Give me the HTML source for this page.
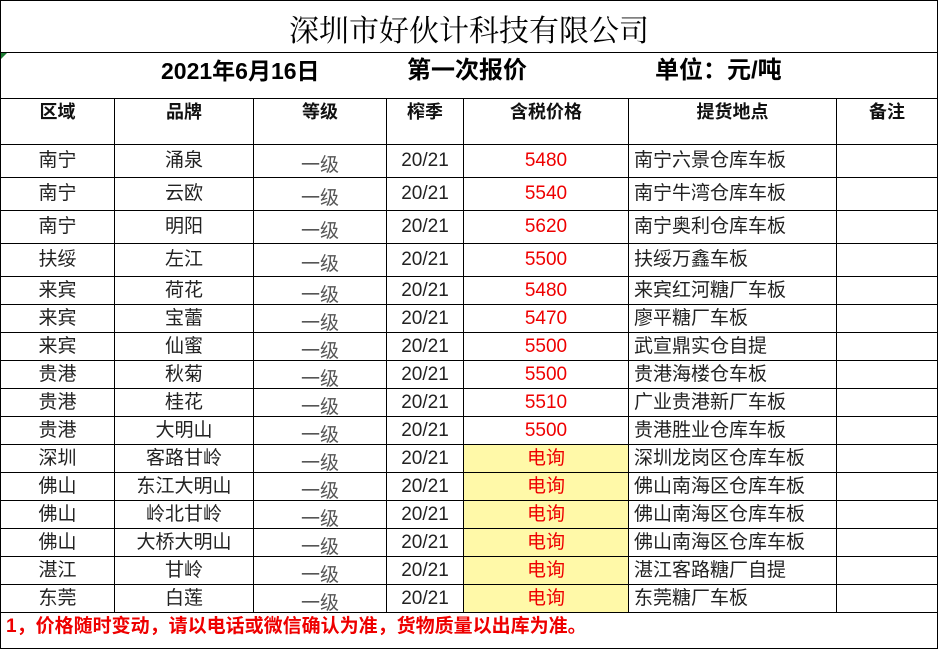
<!DOCTYPE html>
<html><head><meta charset="utf-8"><style>
*{margin:0;padding:0;box-sizing:border-box}
body{width:938px;height:650px;background:#fff;overflow:hidden;font-family:"Liberation Sans","Noto Sans CJK SC",sans-serif;}
table{position:absolute;left:0;top:0;border-collapse:collapse;table-layout:fixed;width:937px}
td{border:1px solid #000;text-align:center;font-size:19px;color:#222;white-space:nowrap;overflow:hidden;padding:0;line-height:20px}
.t{height:52px;font-family:"Noto Serif CJK SC",serif;font-size:30px;color:#000;padding-top:2px}
.s{height:46px;font-weight:bold;font-size:23px;color:#000;text-align:left;position:relative}
.s span{position:absolute;top:8px}
.h td{height:46px;font-weight:bold;font-size:18px;vertical-align:top;padding-top:3px;color:#111}
.a td{height:33px}
.b td{height:28px}
.g span{position:relative;top:5px;color:#555}
.r{color:#e00}
.y{background:#fff9a8;color:#e00}
.l{text-align:left;padding-left:5px}
.f{height:36px;text-align:left;color:#e00;font-weight:bold;font-size:19px;padding-left:5px;vertical-align:top;padding-top:4px}
</style></head><body>
<table>
<colgroup><col style="width:114px"><col style="width:139px"><col style="width:133px"><col style="width:77px"><col style="width:165px"><col style="width:208px"><col style="width:101px"></colgroup>
<tr><td class="t" colspan="7">深圳市好伙计科技有限公司</td></tr>
<tr><td class="s" colspan="7"><span style="left:160px">2021年6月16日</span><span style="left:406px;font-size:24px">第一次报价</span><span style="left:654px;font-size:24px">单位：元/吨</span><span style="left:0;top:0;width:0;height:0;border-top:6px solid #1a7a30;border-right:6px solid transparent"></span></td></tr>
<tr class="h"><td>区域</td><td>品牌</td><td>等级</td><td>榨季</td><td>含税价格</td><td>提货地点</td><td>备注</td></tr>
<tr class="a"><td>南宁</td><td>涌泉</td><td class="g"><span>一级</span></td><td>20/21</td><td class="r">5480</td><td class="l">南宁六景仓库车板</td><td></td></tr>
<tr class="a"><td>南宁</td><td>云欧</td><td class="g"><span>一级</span></td><td>20/21</td><td class="r">5540</td><td class="l">南宁牛湾仓库车板</td><td></td></tr>
<tr class="a"><td>南宁</td><td>明阳</td><td class="g"><span>一级</span></td><td>20/21</td><td class="r">5620</td><td class="l">南宁奥利仓库车板</td><td></td></tr>
<tr class="a"><td>扶绥</td><td>左江</td><td class="g"><span>一级</span></td><td>20/21</td><td class="r">5500</td><td class="l">扶绥万鑫车板</td><td></td></tr>
<tr class="b"><td>来宾</td><td>荷花</td><td class="g"><span>一级</span></td><td>20/21</td><td class="r">5480</td><td class="l">来宾红河糖厂车板</td><td></td></tr>
<tr class="b"><td>来宾</td><td>宝蕾</td><td class="g"><span>一级</span></td><td>20/21</td><td class="r">5470</td><td class="l">廖平糖厂车板</td><td></td></tr>
<tr class="b"><td>来宾</td><td>仙蜜</td><td class="g"><span>一级</span></td><td>20/21</td><td class="r">5500</td><td class="l">武宣鼎实仓自提</td><td></td></tr>
<tr class="b"><td>贵港</td><td>秋菊</td><td class="g"><span>一级</span></td><td>20/21</td><td class="r">5500</td><td class="l">贵港海楼仓车板</td><td></td></tr>
<tr class="b"><td>贵港</td><td>桂花</td><td class="g"><span>一级</span></td><td>20/21</td><td class="r">5510</td><td class="l">广业贵港新厂车板</td><td></td></tr>
<tr class="b"><td>贵港</td><td>大明山</td><td class="g"><span>一级</span></td><td>20/21</td><td class="r">5500</td><td class="l">贵港胜业仓库车板</td><td></td></tr>
<tr class="b"><td>深圳</td><td>客路甘岭</td><td class="g"><span>一级</span></td><td>20/21</td><td class="y">电询</td><td class="l">深圳龙岗区仓库车板</td><td></td></tr>
<tr class="b"><td>佛山</td><td>东江大明山</td><td class="g"><span>一级</span></td><td>20/21</td><td class="y">电询</td><td class="l">佛山南海区仓库车板</td><td></td></tr>
<tr class="b"><td>佛山</td><td>岭北甘岭</td><td class="g"><span>一级</span></td><td>20/21</td><td class="y">电询</td><td class="l">佛山南海区仓库车板</td><td></td></tr>
<tr class="b"><td>佛山</td><td>大桥大明山</td><td class="g"><span>一级</span></td><td>20/21</td><td class="y">电询</td><td class="l">佛山南海区仓库车板</td><td></td></tr>
<tr class="b"><td>湛江</td><td>甘岭</td><td class="g"><span>一级</span></td><td>20/21</td><td class="y">电询</td><td class="l">湛江客路糖厂自提</td><td></td></tr>
<tr class="b"><td>东莞</td><td>白莲</td><td class="g"><span>一级</span></td><td>20/21</td><td class="y">电询</td><td class="l">东莞糖厂车板</td><td></td></tr>
<tr><td class="f" colspan="7">1，价格随时变动，请以电话或微信确认为准，货物质量以出库为准。</td></tr>
</table>
</body></html>
